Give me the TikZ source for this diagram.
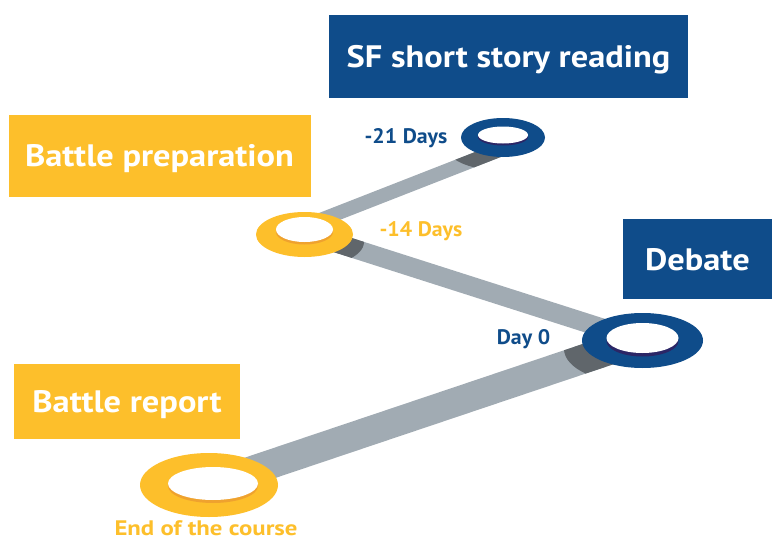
\documentclass[tikz,border=0pt]{standalone}
\usepackage{fontspec}
\usepackage{graphicx}
\setmainfont{PT Sans}
\usetikzlibrary{calc}
\definecolor{dblue}{HTML}{0F4C8A}
\definecolor{dyellow}{HTML}{FDBF2B}
\definecolor{road}{HTML}{A1ABB3}
\definecolor{roadshadow}{HTML}{60666B}
\definecolor{yrim}{HTML}{EFA22E}
\definecolor{brim}{HTML}{2B2666}
\newcommand{\widetext}[2]{\scalebox{#1}[1]{#2}}
\tikzset{
  box/.style={inner sep=0pt, text=white, font=\bfseries\fontsize{31}{36}\selectfont, text height=22pt, text depth=0pt, align=center},
  lbl/.style={inner sep=0pt, font=\bfseries\fontsize{21}{25}\selectfont, anchor=base},
}
\newcommand{\roadband}[3]{% from, to, half width
  ($(#1)!#3!90:(#2)$) -- ($(#2)!#3!-90:(#1)$) -- ($(#2)!#3!90:(#1)$) -- ($(#1)!#3!-90:(#2)$) -- cycle}
\begin{document}
\begin{tikzpicture}[x=1pt,y=-1pt]
\useasboundingbox (0,0) rectangle (772,538);
% road coordinates
\coordinate (a1) at (502,149); \coordinate (b1) at (305,226);
\coordinate (a2) at (305,233); \coordinate (b2) at (643,341);
\coordinate (a3) at (643,339); \coordinate (b3) at (209,485);
% roads
\fill[road] \roadband{a1}{b1}{7pt};
\fill[road] \roadband{a2}{b2}{9.5pt};
\fill[road] \roadband{a3}{b3}{14.5pt};
% shadows
\begin{scope}
  \clip \roadband{a1}{b1}{7pt};
  \fill[roadshadow] (498,146) ellipse [x radius=52pt, y radius=24pt];
\end{scope}
\begin{scope}
  \clip \roadband{a2}{b2}{9.5pt};
  \fill[roadshadow] (305,242) ellipse [x radius=59pt, y radius=26pt];
\end{scope}
\begin{scope}
  \clip \roadband{a3}{b3}{14.5pt};
  \fill[roadshadow] (639,349) ellipse [x radius=75pt, y radius=35pt];
\end{scope}
% rings
\fill[dblue] (503,137.5) ellipse [x radius=42pt, y radius=19.5pt];
\fill[brim] (503,137) ellipse [x radius=25pt, y radius=8.5pt];
\fill[white] (503,135) ellipse [x radius=25pt, y radius=8.5pt];

\fill[dyellow] (304.5,234.5) ellipse [x radius=48.5pt, y radius=22.5pt];
\fill[yrim] (304.5,232) ellipse [x radius=28.5pt, y radius=12.5pt];
\fill[white] (304.5,229.5) ellipse [x radius=28.5pt, y radius=12.5pt];

\fill[dblue] (642.5,340.5) ellipse [x radius=60.5pt, y radius=27.5pt];
\fill[brim] (642.5,341) ellipse [x radius=36pt, y radius=15.5pt];
\fill[white] (642.5,338) ellipse [x radius=36pt, y radius=15pt];

\fill[dyellow] (209,485) ellipse [x radius=69pt, y radius=32pt];
\fill[yrim] (213,486) ellipse [x radius=45pt, y radius=17pt];
\fill[white] (213,483.5) ellipse [x radius=45pt, y radius=16.5pt];
% boxes
\node[box, fill=dblue, minimum width=359pt, minimum height=83pt] (sf) at (508.5,56.5) {\widetext{1.11}{SF short story reading}};
\node[box, fill=dyellow, minimum width=302pt, minimum height=82pt] (prep) at (159.5,155.5) {\widetext{1.11}{Battle preparation}};
\node[box, fill=dblue, minimum width=149pt, minimum height=80pt] (debate) at (697.5,259) {\widetext{1.11}{Debate}};
\node[box, fill=dyellow, minimum width=226pt, minimum height=75pt] (report) at (127,401.5) {\widetext{1.11}{Battle report}};
% labels
\node[lbl, text=dblue] (l21) at (406,143.3) {\widetext{1.04}{-21 Days}};
\node[lbl, text=dyellow] (l14) at (421,236) {\widetext{1.04}{-14 Days}};
\node[lbl, text=dblue] (l0) at (523.5,344) {\widetext{1.04}{Day 0}};
\node[lbl, text=dyellow] (lend) at (206,535) {\widetext{1.18}{End of the course}};
\end{tikzpicture}
\end{document}
